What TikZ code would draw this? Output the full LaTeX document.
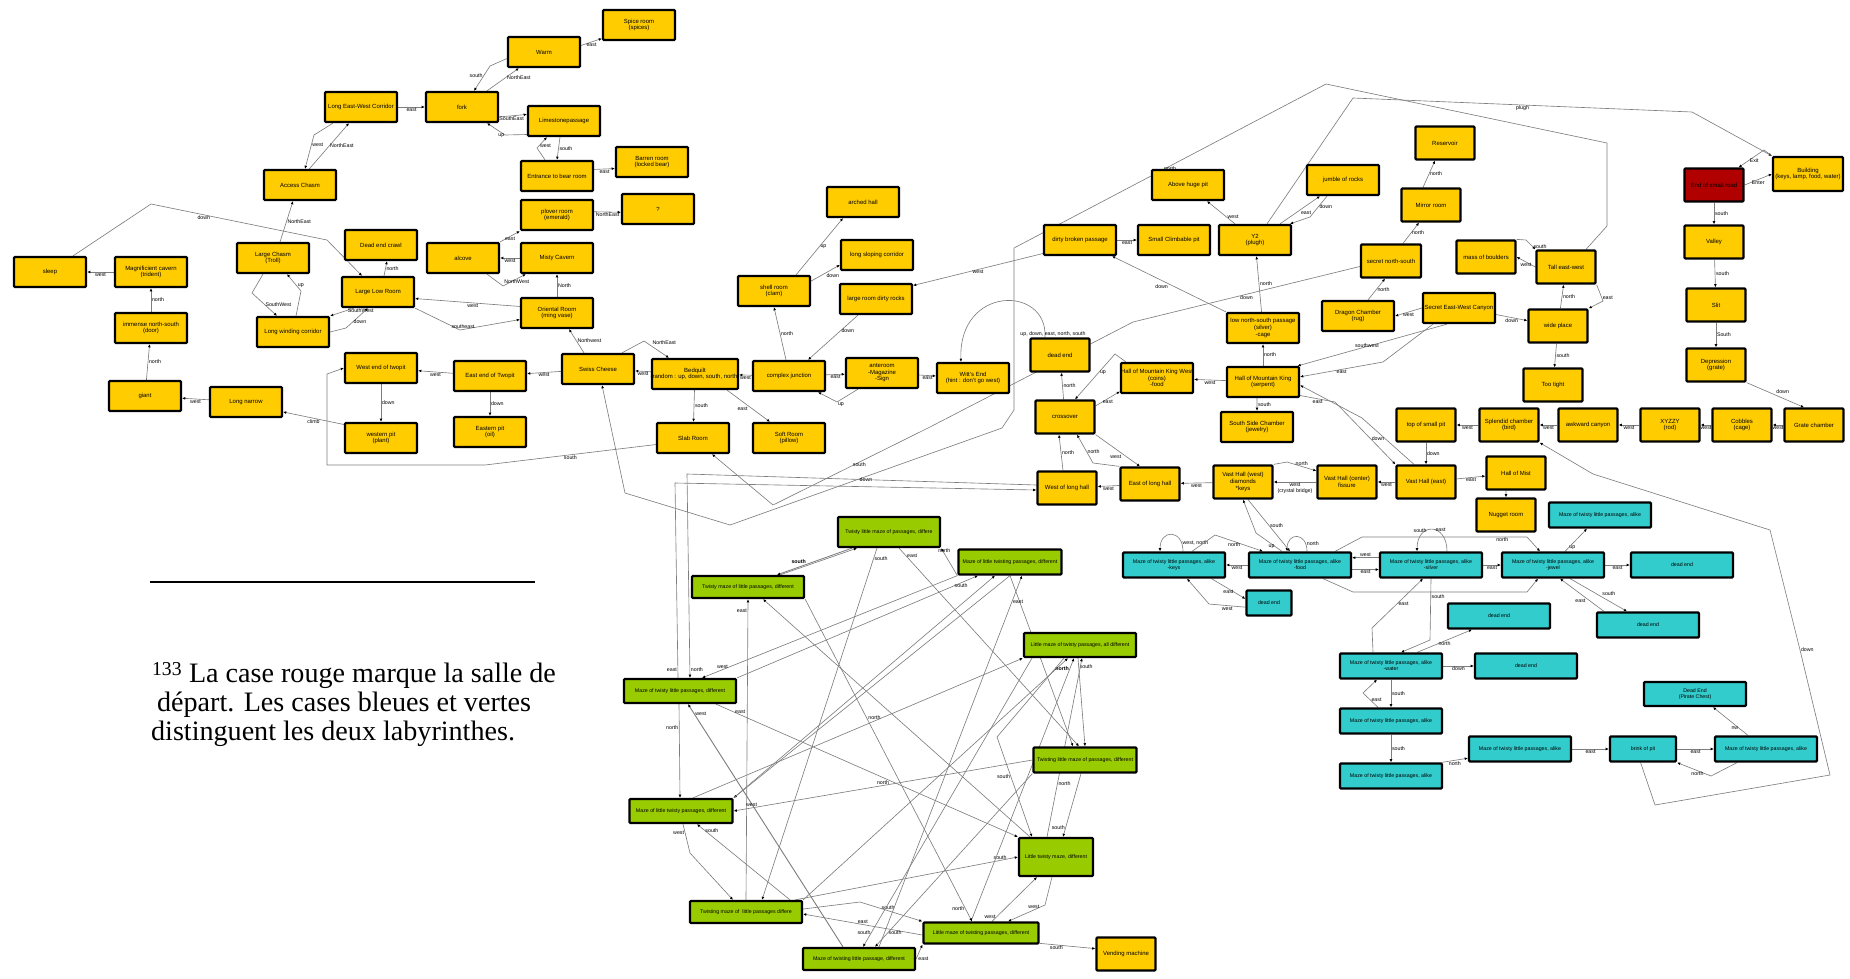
\documentclass[tikz,border=0pt]{standalone}
\usepackage{fontspec}
\setmainfont{Liberation Sans}
\newfontfamily\notefont{Liberation Serif}
\usetikzlibrary{arrows.meta,positioning,backgrounds}
\definecolor{roomyellow}{RGB}{255,204,0}
\definecolor{mazegreen}{RGB}{153,204,0}
\definecolor{mazecyan}{RGB}{51,204,204}
\definecolor{startred}{RGB}{176,0,0}
\definecolor{linkgray}{RGB}{125,125,125}

\begin{document}
\begin{tikzpicture}[x=0.05cm,y=-0.05cm,
    room/.style={draw=black,line width=3.2pt,rounded corners=1.5pt,fill=roomyellow,
      minimum width=3.6cm,minimum height=1.5cm,inner xsep=-5mm,inner ysep=0pt,
      align=center,font=\fontsize{8.5}{9.5}\selectfont},
    sroom/.style={room,minimum width=2.95cm,minimum height=1.65cm},
    startroom/.style={sroom,fill=startred},
    gmaze/.style={room,fill=mazegreen,minimum width=5.6cm,minimum height=1.1cm,
      font=\fontsize{7.5}{8.5}\selectfont},
    cmaze/.style={room,fill=mazecyan,minimum width=5.1cm,minimum height=1.25cm,
      font=\fontsize{7.5}{8.5}\selectfont},
    link/.style={draw=linkgray,line width=0.9pt,-{Latex[length=4.5pt,width=4pt,color=black]}},
    lbl/.style={font=\fontsize{7.5}{8}\selectfont,inner sep=1pt,text=black},
    blbl/.style={lbl,font=\fontsize{7.5}{8}\selectfont\bfseries},
    notetext/.style={font=\notefont\fontsize{40}{44}\selectfont,inner sep=0pt,anchor=base west}]
\useasboundingbox (0,0) rectangle (1850,978);

% rooms, upper left
\node[room] (corridor) at (361,107) {Long East-West Corridor};
\node[room] (fork) at (462,107) {fork};
\node[room] (warm) at (544,52) {Warm};
\node[room] (spice) at (639,25) {Spice room\\(spices)};
\node[room] (limestone) at (564,121) {Limestonepassage};
\node[room] (bearentry) at (557,176) {Entrance to bear room};
\node[room] (barren) at (652,162) {Barren room\\(locked bear)};
\node[room] (plover) at (557,215) {plover room\\(emerald)};
\node[room] (unknown) at (658,209) {?};
\node[room] (alcove) at (463,258) {alcove};
\node[room] (misty) at (557,258) {Misty Cavern};
\node[room] (oriental) at (557,313) {Oriental Room\\(ming vase)};
\node[room] (access) at (300,185) {Access Chasm};
\node[room] (chasm) at (273,258) {Large Chasm\\(Troll)};
\node[room] (crawl) at (381,245) {Dead end crawl};
\node[room] (lowroom) at (378,292) {Large Low Room};
\node[room] (winding) at (293,332) {Long winding corridor};
\node[room] (sleep) at (50,272) {sleep};
\node[room] (cavern) at (151,272) {Magnificient cavern\\(trident)};
\node[room] (immense) at (151,328) {immense north-south\\(door)};
\node[room] (giant) at (145,396) {giant};
\node[room] (narrow) at (246,402) {Long narrow};
\node[room] (westpit) at (381,368) {West end of twopit};
\node[room] (plantpit) at (381,438) {western pit\\(plant)};
\node[room] (eastpit) at (490,376) {East end of Twopit};
\node[room] (oilpit) at (490,432) {Eastern pit\\(oil)};
\node[room] (swiss) at (598,369) {Swiss Cheese};
\node[room,minimum width=4.3cm] (bedquilt) at (695,374) {Bedquilt\\(random : up, down, south, north)};
\node[room] (complex) at (789,376) {complex junction};
\node[room] (anteroom) at (882,373) {anteroom\\-Magazine\\-Sign};
\node[room] (slab) at (693,438) {Slab Room};
\node[room] (soft) at (789,438) {Soft Room\\(pillow)};
\node[room] (shell) at (774,291) {shell room\\(clam)};
\node[room] (arched) at (863,202) {arched hall};
\node[room] (sloping) at (877,255) {long sloping corridor};
\node[room] (dirtyrocks) at (876,299) {large room dirty rocks};

% rooms, middle and right
\node[room] (witt) at (973,378) {Witt's End\\(hint : don't go west)};
\node[sroom] (deadend) at (1060,355) {dead end};
\node[sroom] (crossover) at (1065,417) {crossover};
\node[room] (hmkwest) at (1157,378) {Hall of Mountain King West\\(coins)\\-food};
\node[room] (hmk) at (1263,382) {Hall of Mountain King\\(serpent)};
\node[room] (southside) at (1257,427) {South Side Chamber\\(jewelry)};
\node[sroom] (westlong) at (1067,488) {West of long hall};
\node[sroom] (eastlong) at (1150,484) {East of long hall};
\node[sroom] (vastwest) at (1243,482) {Vast Hall (west)\\diamonds\\*keys};
\node[sroom] (vastcenter) at (1347,482) {Vast Hall (center)\\fissure};
\node[sroom] (vasteast) at (1426,482) {Vast Hall (east)};
\node[sroom] (mist) at (1516,473) {Hall of Mist};
\node[sroom] (nugget) at (1506,515) {Nugget room};
\node[sroom] (smallpit) at (1426,425) {top of small pit};
\node[sroom] (splendid) at (1509,425) {Splendid chamber\\(bird)};
\node[sroom] (awkward) at (1588,425) {awkward canyon};
\node[sroom] (xyzzy) at (1670,425) {XYZZY\\(rod)};
\node[sroom] (cobbles) at (1742,425) {Cobbles\\(cage)};
\node[sroom] (grate) at (1814,425) {Grate chamber};
\node[sroom] (depression) at (1716,365) {Depression\\(grate)};
\node[sroom] (slit) at (1716,305) {Slit};
\node[sroom] (valley) at (1714,242) {Valley};
\node[startroom] (road) at (1714,185) {End of small road};
\node[room,minimum width=3.5cm,minimum height=1.7cm] (building) at (1808,174) {Building\\(keys, lamp, food, water)};
\node[sroom] (tootight) at (1553,385) {Too tight};
\node[sroom] (wide) at (1558,326) {wide place};
\node[sroom] (tall) at (1566,267) {Tall east-west};
\node[sroom] (boulders) at (1486,257) {mass of boulders};
\node[room] (canyon) at (1459,308) {Secret East-West Canyon};
\node[room] (dragon) at (1358,316) {Dragon Chamber\\(rug)};
\node[sroom,minimum width=3cm] (secretns) at (1391,261) {secret north-south};
\node[sroom] (mirror) at (1431,205) {Mirror room};
\node[sroom] (reservoir) at (1445,143) {Reservoir};
\node[room] (lowpass) at (1263,328) {low north-south passage\\(silver)\\-cage};
\node[room] (ytwo) at (1255,240) {Y2\\(plugh)};
\node[room] (climbpit) at (1174,240) {Small Climbable pit};
\node[room] (dirtybroken) at (1080,240) {dirty broken passage};
\node[room] (hugepit) at (1188,185) {Above huge pit};
\node[room] (jumble) at (1343,180) {jumble of rocks};
\node[sroom] (vending) at (1126,954) {Vending machine};

% first maze (green)
\node[gmaze,minimum width=5.1cm,minimum height=1.5cm] (twistyA) at (889,532) {Twisty little maze of passages, differe};
\node[gmaze] (twistyB) at (748,587) {Twisty maze of little passages, different};
\node[gmaze,minimum width=5.15cm,minimum height=1.25cm] (mazeLTw) at (1010,562) {Maze of little twisting passages, different};
\node[gmaze,minimum height=1.2cm] (allDiff) at (1080,645) {Little maze of twisty passages, all different};
\node[gmaze,minimum height=1.2cm] (mazeTL) at (680,691) {Maze of twisty little passages, different};
\node[gmaze,minimum width=5.15cm,minimum height=1.25cm] (twistLM) at (1085,760) {Twisting little maze of passages, different};
\node[gmaze,minimum width=5.15cm,minimum height=1.2cm] (mazeLTy) at (681,811) {Maze of little twisty passages, different};
\node[gmaze,minimum width=3.7cm,minimum height=1.9cm] (littleTM) at (1056,857) {Little twisty maze, different};
\node[gmaze] (twistingM) at (746,912) {Twisting maze of \ little passages differe};
\node[gmaze,minimum width=5.75cm,minimum height=1.05cm] (littleMT) at (981,933) {Little maze of twisting passages, different};
\node[gmaze] (mazeTwL) at (859,959) {Maze of twisting little passage, different};

% second maze (cyan)
\node[cmaze] (ckeys) at (1174,565) {Maze of twisty little passages, alike\\-keys};
\node[cmaze] (cfood) at (1300,565) {Maze of twisty little passages, alike\\-food};
\node[cmaze] (csilver) at (1431,565) {Maze of twisty little passages, alike\\-silver};
\node[cmaze] (cjewel) at (1553,565) {Maze of twisty little passages, alike\\-jewel};
\node[cmaze] (cup) at (1600,515) {Maze of twisty little passages, alike};
\node[cmaze,minimum width=2.25cm] (deadA) at (1269,603) {dead end};
\node[cmaze] (deadB) at (1682,565) {dead end};
\node[cmaze] (deadC) at (1499,616) {dead end};
\node[cmaze] (deadD) at (1648,625) {dead end};
\node[cmaze] (cwater) at (1391,666) {Maze of twisty little passages, alike\\-water};
\node[cmaze] (deadE) at (1526,666) {dead end};
\node[cmaze] (cplainA) at (1391,721) {Maze of twisty little passages, alike};
\node[cmaze] (cplainB) at (1391,776) {Maze of twisty little passages, alike};
\node[cmaze] (cplainC) at (1520,749) {Maze of twisty little passages, alike};
\node[cmaze,minimum width=3.3cm] (brink) at (1643,749) {brink of pit};
\node[cmaze] (cplainD) at (1766,749) {Maze of twisty little passages, alike};
\node[cmaze,minimum height=1.2cm] (pirate) at (1695,694) {Dead End\\(Pirate Chest)};

% footnote
\draw[line width=3pt] (150,582) -- (535,582);
\node[notetext] (noteA) at (152,682) {\textsuperscript{133} La case rouge marque la salle de};
\node[notetext] (noteB) at (157,711) {départ. Les cases bleues et vertes};
\node[notetext] (noteC) at (151,740) {distinguent les deux labyrinthes.};

\begin{pgfonlayer}{background}
% upper left passages
\draw[link] (corridor) -- node[lbl,below]{east} (fork);
\draw[link] ([xshift=1.25cm]fork.north) -- node[lbl,right,pos=.6]{NorthEast} ([xshift=0.6cm]warm.south west);
\draw[link] (warm.190) -- (490,66) -- node[lbl,left,pos=.4]{south} ([xshift=0.6cm]fork.north);
\draw[link] (warm.10) -- node[lbl,below]{east} (spice.200);
\draw[link] (fork.-15) -- node[lbl,below,pos=.45]{SouthEast} (limestone.170);
\draw[link] (limestone.200) -- (505,135) -- node[lbl,below,pos=.2]{up} ([xshift=1.25cm]fork.south);
\draw[link] ([xshift=-0.2cm]limestone.south) -- node[lbl,right]{south} (bearentry.north);
\draw[link] ([xshift=-0.6cm]bearentry.north) -- (537,148) -- node[lbl,right,pos=.2]{west} ([xshift=-0.85cm]limestone.south);
\draw[link] (bearentry.10) -- node[lbl,below]{east} (barren.190);
\draw[link] (plover.5) -- node[lbl,below]{NorthEast} (unknown.185);
\draw[link] (alcove.north east) -- node[lbl,below]{east} (plover.south west);
\draw[link] (misty) -- node[lbl,below]{west} (alcove);
\draw[link] ([xshift=1.2cm]alcove.south) -- (503,286) -- node[lbl,below,pos=.6]{NorthWest} ([xshift=0.3cm]misty.south west);
\draw[link] (oriental) -- node[lbl,right]{North} (misty);
\draw[link] (oriental.170) -- node[lbl,below,pos=.45]{west} (lowroom.-10);
\draw[link] (lowroom.south east) -- (460,330) -- node[lbl,above,pos=.05]{southeast} (oriental.190);
\draw[link] (access.60) -- node[lbl,right]{NorthEast} ([xshift=-0.6cm]corridor.south);
\draw[link] ([xshift=-1.4cm]corridor.south) -- (314,135) -- node[lbl,right,pos=.3]{west} ([xshift=0.25cm]access.north);
\draw[link] ([xshift=0.35cm]chasm.north) -- node[lbl,right]{NorthEast} ([xshift=-0.35cm]access.south);
\draw[link] ([xshift=-0.5cm]chasm.south) -- (252,293) -- node[lbl,right,pos=.5]{SouthWest} ([xshift=-0.8cm]winding.north);
\draw[link] ([xshift=0.15cm]winding.north) -- (301,291) -- node[lbl,right,pos=.3]{up} ([xshift=0.7cm]chasm.south);
\draw[link] ([xshift=-1.2cm]lowroom.south) -- node[lbl,right,pos=.3]{SouthWest} (winding.north east);
\draw[link] (winding.east) -- (346,328) -- node[lbl,right,pos=.3]{down} ([xshift=-0.5cm]lowroom.south);
\draw[link] ([xshift=0.3cm]lowroom.north) -- node[lbl,right]{north} ([xshift=0.3cm]crawl.south);
\draw[link] ([xshift=1.15cm]sleep.north) -- (151,204) -- node[lbl,below,pos=.3]{down} (327,240) -- ([xshift=-0.8cm]lowroom.north);
\draw[link] (cavern) -- node[lbl,below]{west} (sleep);
\draw[link] (immense) -- node[lbl,right]{north} (cavern);
\draw[link] (giant) -- node[lbl,right]{north} (immense);
\draw[link] (narrow) -- node[lbl,below]{west} (giant);
\draw[link] (plantpit.160) -- node[lbl,below]{climb} (narrow.-15);
\draw[link] (westpit) -- node[lbl,right]{down} (plantpit);
\draw[link] (eastpit) -- node[lbl,below]{west} (westpit);
\draw[link] (eastpit) -- node[lbl,right]{down} (oilpit);
\draw[link] (swiss) -- node[lbl,below]{west} (eastpit);
\draw[link] ([xshift=-0.7cm]swiss.north) -- node[lbl,right]{Northwest} ([xshift=0.6cm]oriental.south);
\draw[link] (bedquilt) -- node[lbl,below]{west} (swiss);
\draw[link] ([xshift=1.2cm]swiss.north) -- (644,341) -- node[lbl,above right,pos=.3]{NorthEast} ([xshift=-1.3cm]bedquilt.north);
\draw[link] (bedquilt) -- node[lbl,right]{south} (slab);
\draw[link] ([xshift=1.6cm]bedquilt.south) -- node[lbl,below left]{east} ([xshift=-0.95cm]soft.north);
\draw[link] (complex) -- node[lbl,below]{west} (bedquilt);
\draw[link] (complex) -- node[lbl,below]{east} (anteroom);
\draw[link] ([xshift=-1.2cm]anteroom.south) -- (837,402) -- node[lbl,below right,pos=0]{up} ([xshift=1.45cm]complex.south);
\draw[link] ([xshift=-0.15cm]complex.north) -- node[lbl,right]{north} (shell.south);
\draw[link] ([xshift=-0.9cm]dirtyrocks.south) -- node[lbl,right,pos=.35]{down} ([xshift=0.95cm]complex.north);
\draw[link] ([xshift=1.1cm]shell.north) -- node[lbl,right]{up} ([xshift=-1cm]arched.south);
\draw[link] (shell.15) -- node[lbl,below right]{down} (sloping.195);
\draw[link] (slab.190) -- node[lbl,below,pos=.5]{south} (485,465) -- (327,465) -- (327,374) -- (westpit.west);

% middle passages
\draw[link] (dirtybroken.200) -- node[lbl,below,pos=.5]{west} (dirtyrocks.20);
\draw[link] (dirtybroken) -- node[lbl,below]{east} (climbpit);
\draw[link] ([xshift=-1cm]ytwo.north) -- node[lbl,right,pos=.3]{west} ([xshift=0.95cm]hugepit.south);
\draw[link] ([xshift=1.25cm]ytwo.north) -- node[lbl,below right,pos=.5]{east} ([xshift=-1.15cm]jumble.south);
\draw[link] ([xshift=-0.8cm]jumble.south) -- node[lbl,right,pos=.5]{down} (1310,217) -- ([xshift=1.75cm]ytwo.north);
\draw[link] (lowpass) -- node[lbl,right]{north} (ytwo);
\draw[link] (lowpass.north west) -- node[lbl,below left,pos=.5]{down} ([xshift=1.6cm]dirtybroken.south);
\draw[link] (anteroom) -- node[lbl,below]{east} (witt);
\draw[link] ([xshift=0.6cm]ytwo.north) -- (1353,98) -- node[lbl,below,pos=.5]{plugh} (1692,112) -- (building.north west);
\draw[link] ([xshift=1cm]tall.north) -- (1607,226) -- (1607,143) -- (1326,84) -- node[lbl,below,pos=.5]{north} (1014,248) -- (1014,410) -- (1002,428) -- node[lbl,below,pos=.5]{down} (730,525) -- (625,493) -- ([xshift=0.2cm]swiss.south);
\draw[link] (secretns.190) -- node[lbl,below,pos=.5]{down} (1133,322) -- (930,427) -- node[lbl,below,pos=.45]{south} (773,505) -- ([xshift=0.95cm]slab.south);
\draw[link] ([xshift=-0.75cm]deadend.north) .. controls (1048,285) and (958,285) .. node[lbl,pos=0,above,xshift=0.4cm]{up, down, east, north, south} ([xshift=-0.6cm]witt.north);
\draw[link] (crossover) -- node[lbl,right]{north} (deadend);
\draw[link] ([xshift=0.3cm]hmkwest.north west) -- (1115,354) -- node[lbl,right,pos=.4]{up} ([xshift=0.5cm]crossover.north);
\draw[link] (crossover.20) -- node[lbl,below]{east} (hmkwest.200);
\draw[link] ([xshift=-0.2cm]westlong.north) -- node[lbl,right]{north} ([xshift=-0.3cm]crossover.south);
\draw[link] (eastlong.north west) -- (1093,463) -- node[lbl,right,pos=.4]{north} ([xshift=0.6cm]crossover.south);
\draw[link] (crossover.south east) -- node[lbl,below left,pos=.6]{west} ([xshift=-0.5cm]eastlong.north);
\draw[link] (eastlong) -- node[lbl,below]{west} (westlong);
\draw[link] (vastwest) -- node[lbl,below]{west} (eastlong);
\draw[link] (vastcenter) -- node[lbl,below,align=center]{west\\(crystal bridge)} (vastwest);
\draw[link] (vastwest.north east) -- (1287,462) -- node[lbl,above,pos=.5]{north} (vastcenter.160);
\draw[link] (vasteast) -- node[lbl,below]{west} (vastcenter);
\draw[link] (smallpit) -- node[lbl,right]{down} (vasteast);
\draw[link] (splendid) -- node[lbl,below]{west} (smallpit);
\draw[link] (awkward) -- node[lbl,below]{west} (splendid);
\draw[link] (xyzzy) -- node[lbl,below]{west} (awkward);
\draw[link] (cobbles) -- node[lbl,below]{west} (xyzzy);
\draw[link] (grate) -- node[lbl,below]{west} (cobbles);
\draw[link] (depression.south east) -- node[lbl,above right]{down} ([xshift=-0.5cm]grate.north);
\draw[link] (slit) -- node[lbl,right]{South} (depression);
\draw[link] (valley) -- node[lbl,right]{south} (slit);
\draw[link] (road) -- node[lbl,right]{south} (valley);
\draw[link] (road.east) -- node[lbl,below]{Enter} (building.west);
\draw[link] (building.north west) -- (1764,150) -- node[lbl,right,pos=.6]{Exit} ([xshift=-0.3cm]road.north east);
\draw[link] (vasteast) -- node[lbl,below]{east} (mist);
\draw[link] ([xshift=-0.5cm]mist.south) -- (nugget);
\draw[link] (hmk) -- node[lbl,below]{west} (hmkwest);
\draw[link] ([xshift=-0.3cm]hmk.south) -- node[lbl,right]{south} (southside);
\draw[link] (hmk) -- node[lbl,right]{north} (lowpass);
\draw[link] ([xshift=0.5cm]dragon.north) -- node[lbl,right]{north} ([xshift=-0.3cm]secretns.south);
\draw[link] ([xshift=0.6cm]secretns.north) -- node[lbl,right]{north} ([xshift=-0.6cm]mirror.south);
\draw[link] ([xshift=-0.4cm]mirror.north) -- node[lbl,right]{north} ([xshift=-0.5cm]reservoir.south);
\draw[link] (canyon.west) -- node[lbl,below]{west} (dragon.east);
\draw[link] (canyon.-10) -- node[lbl,below]{down} (wide.170);
\draw[link] ([xshift=-0.6cm]canyon.south) -- node[lbl,below left,pos=.45]{southwest} (hmk.25);
\draw[link] ([xshift=-1.3cm]canyon.south) -- (1383,362) -- node[lbl,below,pos=.5]{east} (hmk.8);
\draw[link] (wide) -- node[lbl,right]{north} (tall);
\draw[link] (tall.south east) -- node[lbl,right,pos=.8]{east} (1603,301) -- (wide.north east);
\draw[link] (wide) -- node[lbl,right]{south} (tootight);
\draw[link] (tall.west) -- node[lbl,below]{west} (boulders.east);
\draw[link] (boulders.north east) -- (1526,240) -- node[lbl,right,pos=.7]{south} (tall.north west);
\draw[link] (hmk.-20) -- node[lbl,below,pos=.5]{east} (1335,402) -- (vasteast.north west);
\draw[link] ([xshift=-0.6cm]vasteast.north) -- node[lbl,left,pos=.55]{down} (1362,418) -- (hmk.-5);
\draw[link] (brink.-100) -- (1655,805) -- (1830,775) -- (1800,650) -- node[lbl,right,pos=0]{down} (1770,530) -- (1593,474) -- (splendid.south east);

% cyan maze passages
\draw[link] ([xshift=0.45cm]ckeys.north) to[out=90,in=90,looseness=2.5] node[lbl,right,pos=.15]{west, north} ([xshift=-0.7cm]ckeys.north);
\draw[link] ([xshift=0.35cm]cfood.north) to[out=90,in=90,looseness=2.5] node[lbl,right,pos=.15]{north} ([xshift=-0.65cm]cfood.north);
\draw[link] ([xshift=0.8cm]csilver.north) to[out=90,in=90,looseness=2.5] node[lbl,above,pos=.3]{east} node[lbl,left,pos=.6]{south} ([xshift=-0.7cm]csilver.north);
\draw[link] (ckeys.-20) -- node[lbl,below,pos=.5]{east} (deadA.170);
\draw[link] (deadA.190) -- node[lbl,below]{west} (1209,604) -- ([xshift=0.65cm]ckeys.south);
\draw[link] (cfood) -- node[lbl,below]{west} (ckeys);
\draw[link] ([xshift=0.9cm]ckeys.north) -- (1215,535) -- node[lbl,below,pos=.4]{north} ([xshift=-1.85cm]cfood.north);
\draw[link] ([xshift=0.25cm]vastwest.south) -- node[lbl,right,pos=.5]{south} ([xshift=-0.5cm]cfood.north);
\draw[link] ([xshift=-0.9cm]cfood.north) -- node[lbl,below,pos=.4]{up} (1256,533) -- (vastwest.south);
\draw[link] (csilver.172) -- node[lbl,above]{west} (cfood.8);
\draw[link] (cfood.-5) -- node[lbl,below]{east} (csilver.185);
\draw[link] ([xshift=1.75cm]cfood.north) -- (1362,537) -- node[lbl,below,pos=.85]{north} (1527,537) -- ([xshift=-0.65cm]cjewel.north);
\draw[link] ([xshift=1.15cm]cfood.south) -- (1353,592) -- (1527,592) -- ([xshift=-0.75cm]cjewel.south);
\draw[link] (csilver) -- node[lbl,below]{east} (cjewel);
\draw[link] (cjewel) -- node[lbl,below]{east} (deadB);
\draw[link] ([xshift=0.6cm]cjewel.north) -- node[lbl,right,pos=.15]{up} ([xshift=-0.65cm]cup.south);
\draw[link] ([xshift=0.85cm]cjewel.south) -- node[lbl,above right,pos=.55]{south} ([xshift=-1.05cm]deadD.north);
\draw[link] ([xshift=-2.2cm]deadD.north) -- node[lbl,below left,pos=.4]{east} ([xshift=0.35cm]cjewel.south);
\draw[link] (csilver.south) -- node[lbl,right,pos=.3]{south} (1430,640) -- ([xshift=0.5cm]cwater.north);
\draw[link] ([xshift=-0.9cm]cwater.north) -- (1372,628) -- node[lbl,right,pos=.5]{east} ([xshift=-0.4cm]csilver.south);
\draw[link] ([xshift=1.3cm]cwater.north) -- node[lbl,below,pos=.5]{north} ([xshift=-1.35cm]deadC.south);
\draw[link] (cwater) -- node[lbl,below]{down} (deadE);
\draw[link] (cwater) -- node[lbl,right]{south} (cplainA);
\draw[link] ([xshift=-0.65cm]cplainA.north) -- node[lbl,right,pos=.5]{east} (1363,693) -- ([xshift=-0.7cm]cwater.south);
\draw[link] (cplainA) -- node[lbl,right]{south} (cplainB);
\draw[link] (cplainB.15) -- node[lbl,below]{north} (cplainC.190);
\draw[link] (cplainC) -- node[lbl,below]{east} (brink);
\draw[link] (brink) -- node[lbl,below]{east} (cplainD);
\draw[link] ([xshift=-1.45cm]cplainD.south) -- (1711,776) -- node[lbl,below,pos=.4]{north} (brink.south east);
\draw[link] ([xshift=-0.9cm]cplainD.north) -- node[lbl,left,pos=.25]{nw} ([xshift=0.9cm]pirate.south);

% green maze passages
\draw[link,line width=1.2pt] ([xshift=-1.85cm]twistyA.south) -- node[blbl,above left,pos=.6]{south} ([xshift=1.45cm]twistyB.north);
\draw[link] ([xshift=1.6cm]twistyB.north) -- ([xshift=-1.6cm]twistyA.south);
\draw[link] ([xshift=-0.6cm]twistyA.south) -- node[lbl,right,pos=.03]{south} ([xshift=0.8cm]twistingM.north);
\draw[link] ([xshift=0.5cm]twistyA.south) -- node[lbl,right,pos=.04]{east} ([xshift=-0.3cm]twistLM.north);
\draw[link] (mazeLTw.south west) -- node[lbl,above,pos=.8]{north} (twistyA.south east);
\draw[link] ([yshift=0.15cm]westlong.west) -- (687,474) -- node[lbl,right,pos=.96]{north} ([xshift=0.5cm]mazeTL.north);
\draw[link] ([xshift=-0.1cm]mazeTL.north) -- node[lbl,left,pos=.04]{east} (675,483) -- ([yshift=-0.1cm]westlong.west);
\draw[link] (twistingM.north) -- node[lbl,left,pos=.96]{east} (twistyB.south);
\draw[link] (mazeLTw.south west) -- node[lbl,above,pos=.92]{west} ([xshift=1.1cm]mazeTL.north);
\draw[link] ([xshift=-0.05cm]mazeTL.south) -- node[lbl,left,pos=.25]{north} ([xshift=-0.05cm]mazeLTy.north);
\draw[link,line width=1.3pt] ([xshift=-0.8cm]mazeTwL.north) -- node[lbl,right,pos=.96]{west} ([xshift=0.4cm]mazeTL.south);
\draw[link] ([xshift=1.8cm]mazeTL.south) -- node[lbl,right,pos=.06]{east} (littleTM.north west);
\draw[link] (twistLM.west) -- node[lbl,above,pos=.5]{north} node[lbl,above,pos=.94]{west} (mazeLTy.east);
\draw[link] ([xshift=0.6cm]mazeLTy.north) -- node[lbl,above,pos=.55]{north} (allDiff.south west);
\draw[link] ([xshift=0.1cm]mazeLTy.south) -- node[lbl,left,pos=.3]{west} (690,853) -- ([xshift=-0.65cm]twistingM.north);
\draw[link] ([xshift=2.2cm]twistingM.north) -- node[lbl,right,pos=.92]{south} ([xshift=0.8cm]mazeLTy.south);
\draw[link] ([yshift=-0.1cm]littleMT.west) -- node[lbl,above,pos=.5]{east} ([yshift=-0.1cm]twistingM.east);
\draw[link] ([yshift=0.15cm]twistingM.east) -- (860,902) -- node[lbl,above,pos=.45]{south} (littleMT.north west);
\draw[link] ([xshift=-0.4cm]twistingM.north east) -- node[lbl,above,pos=.92]{south} (littleTM.west);
\draw[link] (mazeTwL.east) -- node[lbl,below right,pos=.2]{east} (littleMT.south west);
\draw[link] ([xshift=-2.4cm]allDiff.south) -- node[lbl,left,pos=.95]{south} ([xshift=0.2cm]mazeTwL.north);
\draw[link] (twistLM.south west) -- node[lbl,right,pos=.92]{south} ([xshift=0.8cm]mazeTwL.north);
\draw[link] (twistingM.north east) -- ([xshift=-0.6cm]allDiff.south);
\draw[link] ([xshift=-0.5cm]littleMT.north) -- node[blbl,left,pos=.96]{north} ([xshift=-0.3cm]allDiff.south);
\draw[link] ([xshift=-0.1cm]allDiff.south) -- node[lbl,right,pos=.1]{south} (twistLM.north);
\draw[link] (mazeLTw.south) -- ([xshift=-0.6cm]twistLM.north);
\draw[link] ([xshift=-0.8cm]allDiff.south) -- (997,737) -- node[lbl,left,pos=.4]{south} ([xshift=-1.2cm]littleTM.north);
\draw[link] ([xshift=-0.45cm]littleTM.north) -- node[lbl,right,pos=.3]{north} ([xshift=0.1cm]allDiff.south);
\draw[link] ([xshift=-0.2cm]twistLM.south) -- node[lbl,left,pos=.85]{south} ([xshift=0.35cm]littleTM.north);
\draw[link] ([xshift=0.55cm]littleMT.north) -- node[lbl,left,pos=.1]{west} ([xshift=-0.95cm]littleTM.south);
\draw[link] ([xshift=-0.2cm]littleTM.south) -- (1045,905) -- node[lbl,above,pos=.3]{west} ([xshift=1.35cm]littleMT.north);
\draw[link] (twistyB.south east) -- node[lbl,left,pos=.96]{north} ([xshift=-0.45cm]littleMT.north);
\draw[link] (mazeLTw.south) -- (mazeLTy.north east);
\draw[link] (mazeTL.north east) -- node[lbl,below,pos=.93]{south} ([xshift=-1.6cm]mazeLTw.south);
\draw[link] (mazeLTy.north east) -- ([xshift=-0.75cm]mazeLTw.south);
\draw[link] ([xshift=1cm]mazeTwL.north) -- node[lbl,right,pos=.93]{east} ([xshift=0.6cm]mazeLTw.south);
\draw[link] ([xshift=-1.3cm]littleTM.north) -- ([xshift=0.75cm]twistyB.south);
\draw[link] (littleMT.-10) -- node[lbl,below,pos=.3]{south} (vending.170);
\end{pgfonlayer}
\end{tikzpicture}
\end{document}
